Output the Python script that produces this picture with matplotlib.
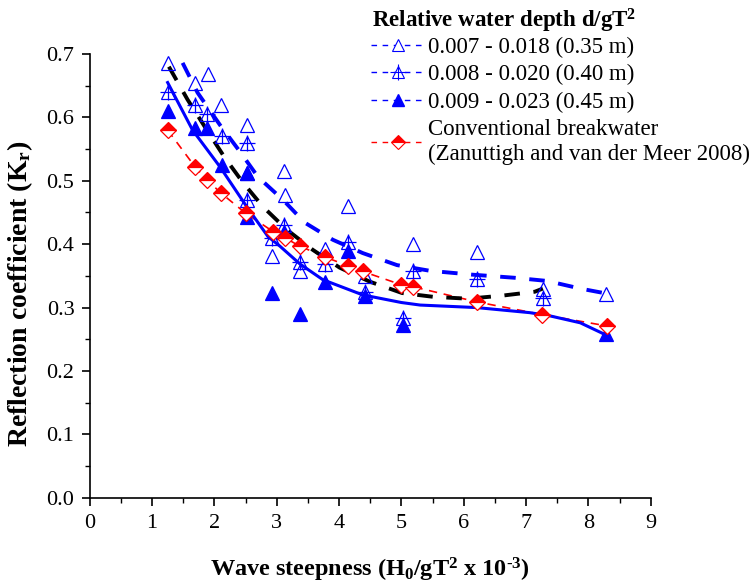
import numpy as np
import matplotlib
matplotlib.use('Agg')
import matplotlib.pyplot as plt
from matplotlib.lines import Line2D
from matplotlib.legend_handler import HandlerTuple

plt.rcParams['font.family'] = ['Liberation Serif', 'DejaVu Serif']
plt.rcParams['mathtext.fontset'] = 'custom'
plt.rcParams['mathtext.rm'] = 'Liberation Serif:bold'
plt.rcParams['mathtext.it'] = 'Liberation Serif:bold'
plt.rcParams['mathtext.bf'] = 'Liberation Serif:bold'

# d/gT2 = 0.007 - 0.018 (0.35 m), open triangles
x_a = [1.25, 1.69, 1.90, 2.10, 2.52, 2.52, 2.93, 3.12, 3.14, 3.38, 3.78, 4.15, 4.42, 5.18, 6.22, 7.27, 8.29]
y_a = [0.686, 0.655, 0.669, 0.620, 0.588, 0.512, 0.382, 0.515, 0.478, 0.357, 0.393, 0.460, 0.350, 0.401, 0.388, 0.330, 0.322]

# 0.008 - 0.020 (0.40 m), triangle with cross
x_b = [1.25, 1.69, 1.88, 2.12, 2.52, 2.52, 2.93, 3.12, 3.38, 3.78, 4.15, 4.42, 5.02, 5.18, 6.22, 7.27]
y_b = [0.640, 0.620, 0.606, 0.570, 0.560, 0.470, 0.410, 0.430, 0.372, 0.368, 0.403, 0.325, 0.283, 0.357, 0.345, 0.315]

# 0.009 - 0.023 (0.45 m), filled triangles
x_c = [1.25, 1.69, 1.88, 2.12, 2.52, 2.52, 2.93, 3.12, 3.38, 3.78, 4.15, 4.42, 5.02, 8.29]
y_c = [0.610, 0.583, 0.583, 0.525, 0.512, 0.443, 0.323, 0.420, 0.290, 0.340, 0.390, 0.318, 0.272, 0.258]

# conventional breakwater (Zanuttigh and van der Meer 2008)
x_d = [1.25, 1.69, 1.88, 2.10, 2.50, 2.94, 3.13, 3.37, 3.77, 4.14, 4.38, 5.00, 5.18, 6.21, 7.26, 8.30]
y_d = [0.580, 0.522, 0.502, 0.481, 0.449, 0.420, 0.410, 0.397, 0.380, 0.366, 0.357, 0.336, 0.333, 0.309, 0.289, 0.271]

# trend lines
fit_a_x = [1.49, 1.73, 2.09, 2.41, 2.70, 3.10, 3.45, 3.90, 4.38, 4.93, 5.46, 6.13, 6.82, 7.34, 7.87, 8.30]
fit_a_y = [0.686, 0.639, 0.588, 0.546, 0.506, 0.470, 0.434, 0.407, 0.386, 0.367, 0.358, 0.352, 0.347, 0.342, 0.330, 0.322]
fit_b_x = [1.27, 1.57, 1.88, 2.17, 2.46, 2.78, 3.16, 3.58, 4.01, 4.49, 5.01, 5.51, 6.07, 6.63, 7.14, 7.27]
fit_b_y = [0.680, 0.628, 0.580, 0.536, 0.497, 0.459, 0.423, 0.391, 0.363, 0.341, 0.323, 0.317, 0.314, 0.319, 0.325, 0.330]
fit_c_x = [1.25, 1.65, 2.09, 2.52, 2.86, 3.05, 3.37, 3.74, 4.38, 5.00, 5.30, 6.21, 7.06, 7.38, 7.87, 8.30]
fit_c_y = [0.655, 0.580, 0.522, 0.459, 0.412, 0.397, 0.369, 0.344, 0.320, 0.308, 0.304, 0.300, 0.292, 0.287, 0.276, 0.256]

blue = '#0000ff'
red = '#ff0000'

fig = plt.figure(figsize=(7.54, 5.87), dpi=100)
ax = fig.add_axes([0.119, 0.152, 0.744, 0.756])

ax.plot(fit_a_x, fit_a_y, color=blue, lw=2.8, dashes=(4, 3.5), zorder=3)
ax.plot(fit_b_x, fit_b_y, color='black', lw=2.8, dashes=(4, 3.5), zorder=3)
ax.plot(fit_c_x, fit_c_y, color=blue, lw=2.2, zorder=3)
ax.plot(x_d, y_d, color=red, lw=1.2, dashes=(5, 4), zorder=2)

ms = 10
ax.plot(x_a, y_a, ls='none', marker='^', ms=ms, mfc='none', mec=blue, mew=0.9, zorder=4)
ax.plot(x_b, y_b, ls='none', marker='^', ms=ms, mfc='none', mec=blue, mew=0.9, zorder=4)
ax.plot(x_b, y_b, ls='none', marker='+', ms=ms + 2, mec=blue, mew=0.9, zorder=4)
ax.plot(x_c, y_c, ls='none', marker='^', ms=ms, mfc=blue, mec=blue, mew=0.9, zorder=4)
ax.plot(x_d, y_d, ls='none', marker='D', ms=8, fillstyle='top', mfc=red,
        markerfacecoloralt='white', mec=red, mew=0.9, zorder=5)

ax.set_xlim(0, 9)
ax.set_ylim(0, 0.7)
ax.set_xticks(np.arange(0, 10, 1))
ax.set_xticks(np.arange(0.5, 9, 1), minor=True)
ax.set_yticks(np.arange(0, 0.71, 0.1))
ax.set_yticks(np.arange(0.05, 0.7, 0.1), minor=True)
ax.set_yticklabels(['%.1f' % v for v in np.arange(0, 0.71, 0.1)])
ax.spines['top'].set_visible(False)
ax.spines['right'].set_visible(False)
ax.spines['left'].set_linewidth(1.2)
ax.spines['bottom'].set_linewidth(1.2)
ax.tick_params(which='major', direction='out', length=6, width=1.2, labelsize=16)
ax.tick_params(which='minor', direction='out', length=3.5, width=1.0)
ax.tick_params(axis='x', which='major', pad=6)
ax.tick_params(axis='y', which='major', pad=5)

ax.set_xlabel(r'Wave steepness (H$_0$/gT$^2$ x 10$^{\text{-}3}$)', fontsize=17.5, fontweight='bold', labelpad=16)
ax.set_ylabel(r'Reflection coefficient (K$_\mathrm{r}$)', fontsize=20, fontweight='bold', labelpad=8, y=0.46)

# legend with proxy handles
h_a = Line2D([], [], color=blue, lw=1, dashes=(4, 4), marker='^', ms=9, mfc='white', mec=blue, mew=0.8)
h_b1 = Line2D([], [], color=blue, lw=1, dashes=(4, 4), marker='^', ms=9, mfc='white', mec=blue, mew=0.8)
h_b2 = Line2D([], [], ls='none', marker='+', ms=11, mec=blue, mew=0.8)
h_c = Line2D([], [], color=blue, lw=1, dashes=(4, 4), marker='^', ms=9, mfc=blue, mec=blue)
h_d = Line2D([], [], color=red, lw=1, dashes=(4, 4), marker='D', ms=7, fillstyle='top', mfc=red,
             markerfacecoloralt='white', mec=red, mew=0.8)
labels = ['0.007 - 0.018 (0.35 m)', '0.008 - 0.020 (0.40 m)', '0.009 - 0.023 (0.45 m)',
          'Conventional breakwater\n(Zanuttigh and van der Meer 2008)']
leg = fig.legend([h_a, (h_b1, h_b2), h_c, h_d], labels,
                 handler_map={tuple: HandlerTuple(ndivide=1, pad=0)},
                 loc='upper left', bbox_to_anchor=(0.471, 0.965), frameon=False,
                 fontsize=16.5, handlelength=2.3, handletextpad=0.2, labelspacing=0.28,
                 borderpad=0.2)
fig.text(372 / 754, 1 - 21 / 587, r'Relative water depth d/gT$^2$', fontsize=16.5,
         fontweight='bold', ha='left', va='center')

fig.savefig('out.png', dpi=100)
